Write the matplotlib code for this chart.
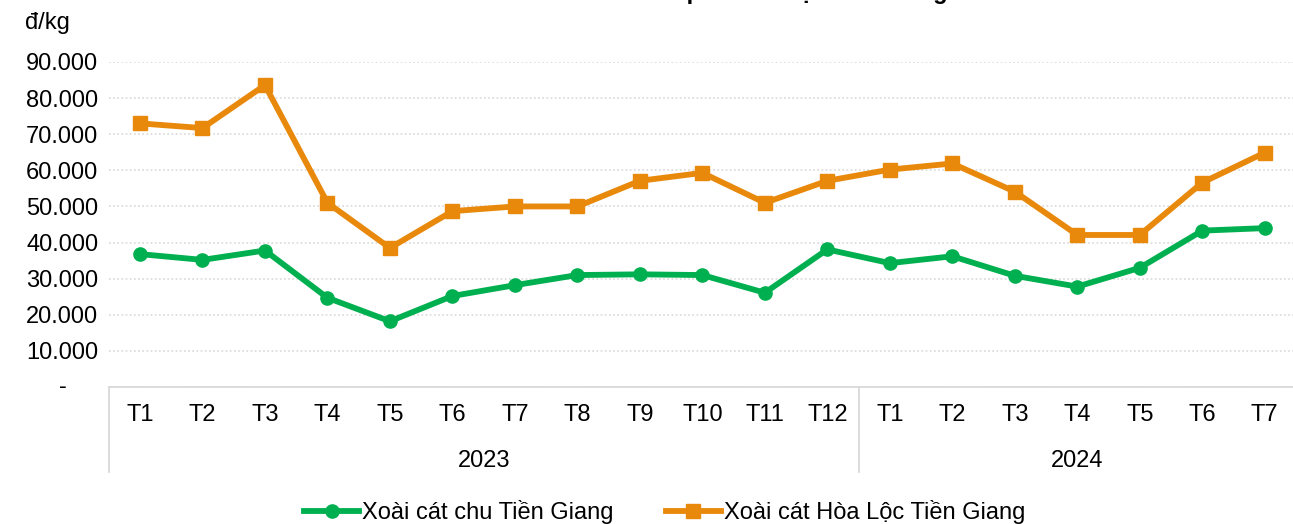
import matplotlib
matplotlib.use("Agg")
import matplotlib.pyplot as plt
from matplotlib.lines import Line2D
from matplotlib.ticker import FuncFormatter
import matplotlib.transforms as mtransforms

plt.rcParams['font.family'] = ['Liberation Sans', 'DejaVu Sans']

# dữ liệu (đ/kg)
months = ["T1", "T2", "T3", "T4", "T5", "T6", "T7", "T8", "T9", "T10", "T11", "T12",
          "T1", "T2", "T3", "T4", "T5", "T6", "T7"]
years = ["2023", "2024"]
year_len = [12, 7]
xoai_chu = [36800, 35200, 37800, 24700, 18200, 25200, 28200, 31000, 31200, 31000, 26100, 38100,
            34300, 36200, 30800, 27800, 33000, 43300, 44000]
xoai_hoa_loc = [73000, 71700, 83600, 51000, 38500, 48700, 50000, 50000, 57100, 59300, 51000, 57100,
                60200, 61900, 54100, 42100, 42100, 56600, 64900]
yticks = [0, 10000, 20000, 30000, 40000, 50000, 60000, 70000, 80000, 90000]

green = "#00B050"
orange = "#E8890C"
grid_c = "#D9D9D9"
fs = 17

fig = plt.figure(figsize=(12.93, 5.24), dpi=100)
ax = fig.add_axes([108.75 / 1293, 1 - 387 / 524, (1296 - 108.75) / 1293, 325 / 524])

x = list(range(len(months)))
ax.plot(x, xoai_chu, color=green, lw=4.2, marker="o", ms=9.5, zorder=3)
ax.plot(x, xoai_hoa_loc, color=orange, lw=4.2, marker="s", ms=10.5, zorder=3)

ax.set_xlim(-0.5, len(months) - 0.5)
ax.set_ylim(0, 90000)
ax.set_yticks(yticks)
ax.yaxis.set_major_formatter(FuncFormatter(lambda v, p: "" if v == 0 else f"{int(v):,}".replace(",", ".")))
ax.grid(axis="y", color=grid_c, ls=(0, (1, 1.5)), lw=1.2)
ax.set_axisbelow(True)
for s in ["top", "right", "left"]:
    ax.spines[s].set_visible(False)
ax.spines["bottom"].set_color(grid_c)
ax.spines["bottom"].set_linewidth(1.3)

ax.set_xticks(x)
ax.set_xticklabels(months)
ax.tick_params(axis="x", length=0, pad=12.5, labelsize=fs)
ax.tick_params(axis="y", length=0, pad=7.5, labelsize=fs)

# dấu "-" cho giá trị 0
ax.text(-0.0385, 0, "-", transform=mtransforms.blended_transform_factory(ax.transAxes, ax.transData),
        ha="center", va="center", fontsize=fs)

# nhóm năm
trans = mtransforms.blended_transform_factory(ax.transData, ax.transAxes)
start = 0
for yr, n in zip(years, year_len):
    ax.text(start + (n - 1) / 2, -0.2290, yr, transform=trans, ha="center", va="center", fontsize=fs)
    ax.plot([start - 0.5, start - 0.5], [0, -0.2615], transform=trans, color=grid_c, lw=1.3, clip_on=False)
    start += n
ax.plot([start - 0.5, start - 0.5], [0, -0.2615], transform=trans, color=grid_c, lw=1.3, clip_on=False)

fig.text(25 / 1293, 1 - 23 / 524, "đ/kg", ha="left", va="center", fontsize=fs)
fig.text(0.54, 1 + 1 / 524, "Giá xoài cát thu mua phổ biến tại Tiền Giang", ha="center", va="baseline",
         fontsize=fs, fontweight="bold")

handles = [Line2D([], [], color=green, lw=4.2, marker="o", ms=9.5),
           Line2D([], [], color=orange, lw=4.2, marker="s", ms=10.5)]
fig.legend(handles, ["Xoài cát chu Tiền Giang", "Xoài cát Hòa Lộc Tiền Giang"], loc="center",
           bbox_to_anchor=(0.514, 0.022), ncol=2, frameon=False, fontsize=fs,
           handlelength=2.33, handletextpad=0.13, columnspacing=2.2)

fig.savefig("out.png", dpi=100)
